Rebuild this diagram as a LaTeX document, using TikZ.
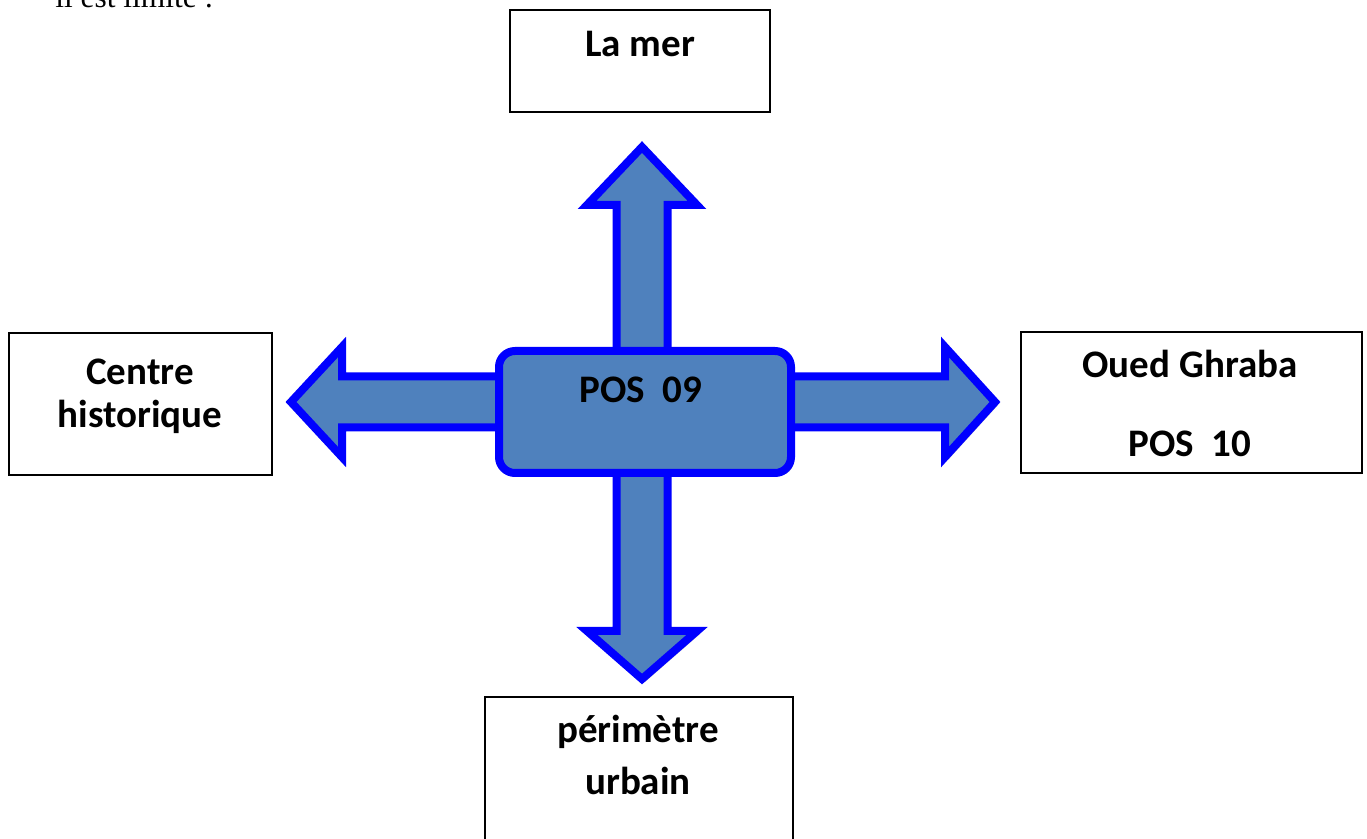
\documentclass[tikz,border=0pt]{standalone}
\usepackage{fontspec}
\setmainfont{Carlito}
\newfontfamily\introfont{Liberation Serif}
\usetikzlibrary{shadows}

\definecolor{posfill}{HTML}{4F81BD}
\definecolor{posline}{HTML}{0000FF}

\tikzset{
  placebox/.style={draw=black, line width=0.75pt, fill=white, inner sep=0pt},
  placetext/.style={font=\fontsize{19.5pt}{21.5pt}\selectfont\bfseries, align=center, inner sep=0pt, anchor=base},
  blockarrow/.style={draw=posline, fill=posfill, line width=4pt, line join=miter,
    drop shadow={shadow xshift=1.5pt, shadow yshift=-1.5pt, fill=black!40, opacity=0.6}},
  hubbox/.style={blockarrow, rounded corners=8pt, minimum width=146pt, minimum height=61pt, inner sep=0pt}
}

% block arrow leaving the hub: angle, back of head, tip
\newcommand{\blockarrow}[3]{%
  \draw[blockarrow, shift={(hub)}, rotate=#1]
    (0,-25.5) -- (#2,-25.5) -- (#2,-55) -- (#3,0) -- (#2,55) -- (#2,25.5) -- (0,25.5) -- cycle;}

\begin{document}
\begin{tikzpicture}[x=0.5pt, y=-0.5pt]
\useasboundingbox (0,0) rectangle (1367,839);

\node[font=\introfont\fontsize{15.7pt}{18pt}\selectfont, anchor=base west, inner sep=0pt] (intro) at (55,8) {il est limité :};

% the places round the POS
\node[placebox, minimum width=130pt, minimum height=51pt] (mer) at (640,61) {};
\node[placebox, minimum width=131.5pt, minimum height=71pt] (centre) at (140.5,404) {};
\node[placebox, minimum width=170.5pt, minimum height=70.5pt] (oued) at (1191.5,402.5) {};
\node[placebox, minimum width=154pt, minimum height=80pt] (perim) at (639,777) {};

% arrows from the POS
\coordinate (hub) at (642,402);
\blockarrow{90}{197}{255}
\blockarrow{180}{300}{351}
\blockarrow{0}{303}{353}
\blockarrow{270}{229}{277}

\node[hubbox] (pos) at (645,412) {};

% multi-line texts sit on the baseline of their last line
\node[placetext] (mer-txt) at (640,57) {La mer};
\node[placetext] (centre-txt) at (140,428) {Centre\\historique};
\node[placetext] (oued-txt) at (1190,457) {Oued Ghraba\\[18pt]POS~~10};
\node[placetext] (pos-txt) at (641,403) {POS~~09};
\node[placetext] (perim-txt) at (638,795) {périmètre\\[5pt]urbain};
\end{tikzpicture}
\end{document}
